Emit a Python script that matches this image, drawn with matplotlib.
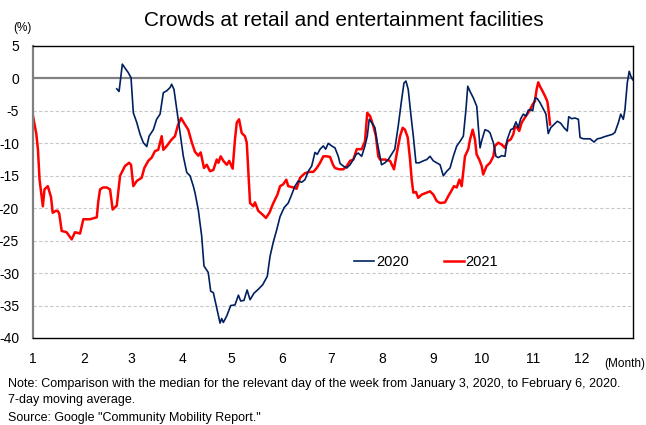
import matplotlib
matplotlib.use("Agg")
import matplotlib.pyplot as plt

plt.rcParams['font.family'] = ['Liberation Sans', 'DejaVu Sans']

title = "Crowds at retail and entertainment facilities"
month_labels = ["1", "2", "3", "4", "5", "6", "7", "8", "9", "10", "11", "12"]
month_start_days = [0, 31, 60, 91, 121, 152, 182, 213, 244, 274, 305, 335]
y_ticks = [5, 0, -5, -10, -15, -20, -25, -30, -35, -40]

# 2020 series: day of year (0 = Jan 1), value (%)
days_2020 = [51.1, 52.5, 54.5, 56.1, 58.1, 59.8, 61.2, 63.3, 65.3, 67.3, 69.4, 70.8, 73.4, 75.4, 77.5,
             79.5, 81.6, 83.6, 84.6, 86, 87.7, 89.7, 91.7, 93.8, 95.8, 97.8, 98.8, 100.8, 102.9, 104.3,
             106.9, 108.4, 110, 112.1, 114.1, 115.1, 116.1, 118.2, 120.6, 123.2, 125.3, 126.7, 128.7,
             130.6, 132.4, 134.8, 137.4, 140.1, 142.9, 144.6, 146.6, 148.7, 150.7, 153.2, 155.7, 157.8,
             159.8, 161.8, 163.9, 165.9, 167.9, 170, 172, 173.4, 175.1, 177.1, 178.5, 180.1, 182.2,
             184.2, 186.2, 187.3, 189.3, 191.4, 193.4, 195.4, 197.1, 198.4, 200.5, 202.5, 203.9, 205.1,
             206.6, 208.6, 209.6, 211.2, 212.6, 214.7, 216.7, 218.7, 220.7, 222.8, 224.9, 226.3, 227.5,
             228.9, 230.6, 232, 233.6, 235.6, 238.1, 240.2, 242.2, 244.2, 246.3, 248.3, 250.3, 252.4,
             254.4, 256.4, 258.5, 260.5, 262.5, 264.1, 265.2, 266.6, 268.6, 270.7, 271.6, 272.7, 273.7,
             275.7, 277.7, 278.8, 280.8, 282.4, 283.8, 285.9, 287.9, 289.3, 291.4, 293, 294.6, 296,
             297.5, 299.1, 300.7, 302.1, 303.6, 304.8, 306.2, 307.6, 309.2, 311.3, 312.9, 314.3, 315.8,
             317.8, 319.8, 321.9, 323.9, 325.9, 326.8, 328.6, 330.6, 332.7, 333.7, 335.7, 337.8, 339.8,
             342.2, 344.3, 346.3, 348.3, 351, 353.6, 355, 357.1, 358.5, 360.1, 361.1, 362.5, 363.7,
             364.6, 365.8]
values_2020 = [-1.6, -2.0, 2.2, 1.6, 0.9, 0.1, -5.3, -6.8, -8.6, -9.9, -10.5, -8.9, -7.9, -6.3, -5.5,
               -2.2, -1.9, -1.4, -0.9, -1.7, -4.8, -8.4, -12.0, -14.5, -15.0, -16.6, -17.6, -20.2, -24.3, -28.9,
               -29.9, -32.8, -33.0, -35.4, -37.7, -37.0, -37.6, -36.6, -35.0, -34.9, -33.4, -34.3, -34.2,
               -32.6, -34.1, -33.1, -32.5, -31.8, -30.5, -27.4, -25.2, -23.3, -21.3, -19.9, -19.2, -17.9,
               -16.6, -15.8, -16.0, -15.6, -14.3, -13.5, -11.4, -11.7, -10.9, -10.4, -10.9, -10.0, -10.4,
               -10.7, -12.0, -13.1, -13.5, -13.8, -13.3, -12.5, -11.7, -11.5, -12.0, -10.4, -8.9, -6.3,
               -6.8, -7.6, -9.4, -11.4, -13.3, -13.0, -12.5, -11.7, -10.9, -7.3, -3.2, -0.7, -0.4,
               -1.7, -5.8, -8.9, -13.0, -13.0, -12.7, -12.5, -12.0, -12.7, -13.0, -13.3, -15.0, -14.3,
               -13.8, -12.0, -10.4, -9.7, -8.9, -4.8, -1.2, -2.0, -3.0, -4.3, -7.3, -10.7, -9.6,
               -7.9, -8.1, -8.4, -9.9, -12.0, -12.2, -11.9, -12.0, -9.4, -7.9, -7.7, -6.7, -7.6,
               -6.2, -5.5, -5.8, -4.9, -4.8, -5.0, -3.0, -3.1, -3.7, -4.7, -5.5, -8.5, -7.6,
               -7.1, -6.6, -6.9, -7.6, -8.1, -5.9, -6.2, -6.1, -6.3, -9.1, -9.3, -9.3, -9.3,
               -9.8, -9.3, -9.2, -9.0, -8.8, -8.6, -8.3, -6.8, -5.5, -6.3, -4.8, -0.7, 1.1,
               0.4, -0.2]

# 2021 series
days_2021 = [0, 2, 3, 4, 6, 7, 9, 11, 12, 14, 15, 16, 17.5, 20.5, 23.6, 25.6, 28.7, 30.7, 34.8, 38.9,
             39.8, 40.9, 42.7, 45, 47, 48.6, 51.1, 53.1, 56.1, 58.6, 59.8, 61.2, 63.3, 66.3, 67.9, 70.3,
             72.4, 74.4, 76.4, 78.5, 79.5, 81.6, 84.6, 86.6, 88.3, 90.3, 92.7, 94.7, 96.8, 98.8, 100.8,
             102.3, 104.3, 106, 108, 110, 112.1, 113.1, 114.5, 116.1, 118.2, 119.7, 121.8, 123.2, 124.3,
             125.7, 127.3, 129.3, 130.4, 131.3, 132.4, 134.4, 135.4, 137.4, 140.1, 142.1, 144.2, 146.6,
             149.1, 150.7, 152.7, 154.5, 155.7, 158.8, 160.8, 162.9, 165.9, 168.5, 171, 173.1, 175.1,
             177.1, 179.2, 181.2, 183, 184.2, 186.7, 189.3, 191.4, 193.4, 195.4, 197.5, 200.5, 202.5,
             203.9, 205.6, 207.6, 209.2, 210.6, 211.7, 214.7, 217.8, 220.2, 221.8, 223.9, 225.5, 226.9,
             228.6, 230, 231, 232, 233.6, 235, 237.1, 240.2, 242.2, 244.2, 246.3, 248.3, 251.3, 253.4,
             254.8, 256.8, 258.5, 260.1, 261.5, 263.5, 265.5, 266.6, 268.2, 269.6, 270.6, 272.2, 273.7,
             274.6, 276.7, 278.8, 280.8, 281.8, 283.8, 285.9, 287.9, 289.3, 291.4, 293, 294, 295.4,
             296.6, 298.1, 300.1, 301.5, 303.2, 304.8, 306.2, 307.2, 308.2, 309.2, 310.9, 312.3, 313.7,
             314.3, 315.4]
values_2021 = [-5.8, -8.5, -10.9, -15.6, -19.7, -17.1, -16.6, -18.3, -20.7, -20.4, -20.4, -20.8, -23.5, -23.7, -24.8, -23.7, -23.9, -21.7, -21.7, -21.4,
               -19.0, -17.1, -16.8, -16.8, -17.1, -20.2, -19.6, -15.0, -13.5, -13.0, -13.3, -16.6, -15.8, -15.3, -13.8, -12.7,
               -12.2, -11.2, -11.0, -8.9, -11.0, -10.4, -9.4, -8.9, -7.3, -6.1, -7.1, -7.9, -9.8, -11.3, -11.9,
               -11.4, -13.8, -13.3, -14.3, -14.1, -12.5, -13.0, -12.0, -12.7, -13.3, -12.7, -13.9, -9.4, -6.8,
               -6.3, -8.4, -8.9, -9.9, -14.0, -19.2, -19.7, -19.1, -20.4, -21.0, -21.5, -20.7, -19.2,
               -17.9, -16.6, -16.3, -15.6, -16.6, -16.8, -17.0, -15.3, -14.6, -14.4, -14.4, -13.8, -13.0,
               -12.0, -12.0, -12.1, -13.3, -13.8, -14.0, -14.0, -13.5, -12.7, -12.5, -10.9, -10.9, -9.7,
               -5.3, -5.8, -7.3, -8.9, -12.0, -12.5, -12.5, -12.7, -14.0, -11.7, -8.9, -7.6, -7.9,
               -9.1, -12.5, -15.6, -17.6, -17.5, -18.4, -17.9, -17.6, -17.4, -17.9, -18.9, -19.2, -19.1, -18.1,
               -17.5, -16.6, -16.8, -15.6, -16.6, -12.0, -10.9, -9.4, -7.9, -9.4, -11.7, -12.5, -13.5,
               -14.8, -13.5, -13.0, -12.0, -10.4, -9.9, -10.2, -10.7, -9.7, -9.4, -8.6, -7.4, -7.6,
               -8.1, -6.8, -6.0, -5.5, -4.8, -4.0, -3.5, -1.7, -0.6, -1.2, -2.0, -2.7, -3.5,
               -4.5, -7.1]

fig = plt.figure(figsize=(6.46, 4.25), dpi=100)
ax = fig.add_axes([33/646, 1 - 338/425, 600/646, 292/425])

for y in [-5, -10, -15, -20, -25, -30, -35]:
    ax.axhline(y, color='#c8c8c8', lw=0.8, ls=(0, (3, 2)), zorder=0)
ax.axhline(0, color='#808080', lw=1.6, zorder=1)

ax.plot(days_2020, values_2020, color='#002060', lw=1.2, label='2020', zorder=3)
ax.plot(days_2021, values_2021, color='#ff0000', lw=1.8, label='2021', zorder=2)

ax.set_xlim(0, 366)
ax.set_ylim(-40, 5)
ax.set_xticks(month_start_days)
ax.set_xticklabels(month_labels, fontsize=10)
ax.set_yticks(y_ticks)
ax.set_yticklabels([str(v) for v in y_ticks], fontsize=10)
ax.tick_params(axis='both', length=0)
ax.tick_params(axis='x', pad=10)
ax.tick_params(axis='y', pad=10)
for s in ['top', 'right', 'bottom']:
    ax.spines[s].set_color('black')
    ax.spines[s].set_linewidth(1.0)
ax.spines['left'].set_color('#808080')
ax.spines['left'].set_linewidth(1.6)

leg = ax.legend(loc='center', bbox_to_anchor=(0.655, 0.26), ncol=2, frameon=False,
                fontsize=10.5, handlelength=1.4, handletextpad=0.1, columnspacing=2.4)

fig.text(344/646, 1 - 21/425, title, ha='center', va='center', fontsize=15)
fig.text(22/646, 1 - 28/425, "(%)", ha='center', va='center', fontsize=8.5)
fig.text(645/646, 1 - 364/425, "(Month)", ha='right', va='center', fontsize=8.5)
fig.text(8/646, 1 - 384/425,
         "Note: Comparison with the median for the relevant day of the week from January 3, 2020, to February 6, 2020.",
         ha='left', va='center', fontsize=9)
fig.text(8/646, 1 - 400/425, "7-day moving average.", ha='left', va='center', fontsize=9)
fig.text(8/646, 1 - 418/425, 'Source: Google "Community Mobility Report."', ha='left', va='center', fontsize=9)

fig.savefig('out.png', dpi=100)
